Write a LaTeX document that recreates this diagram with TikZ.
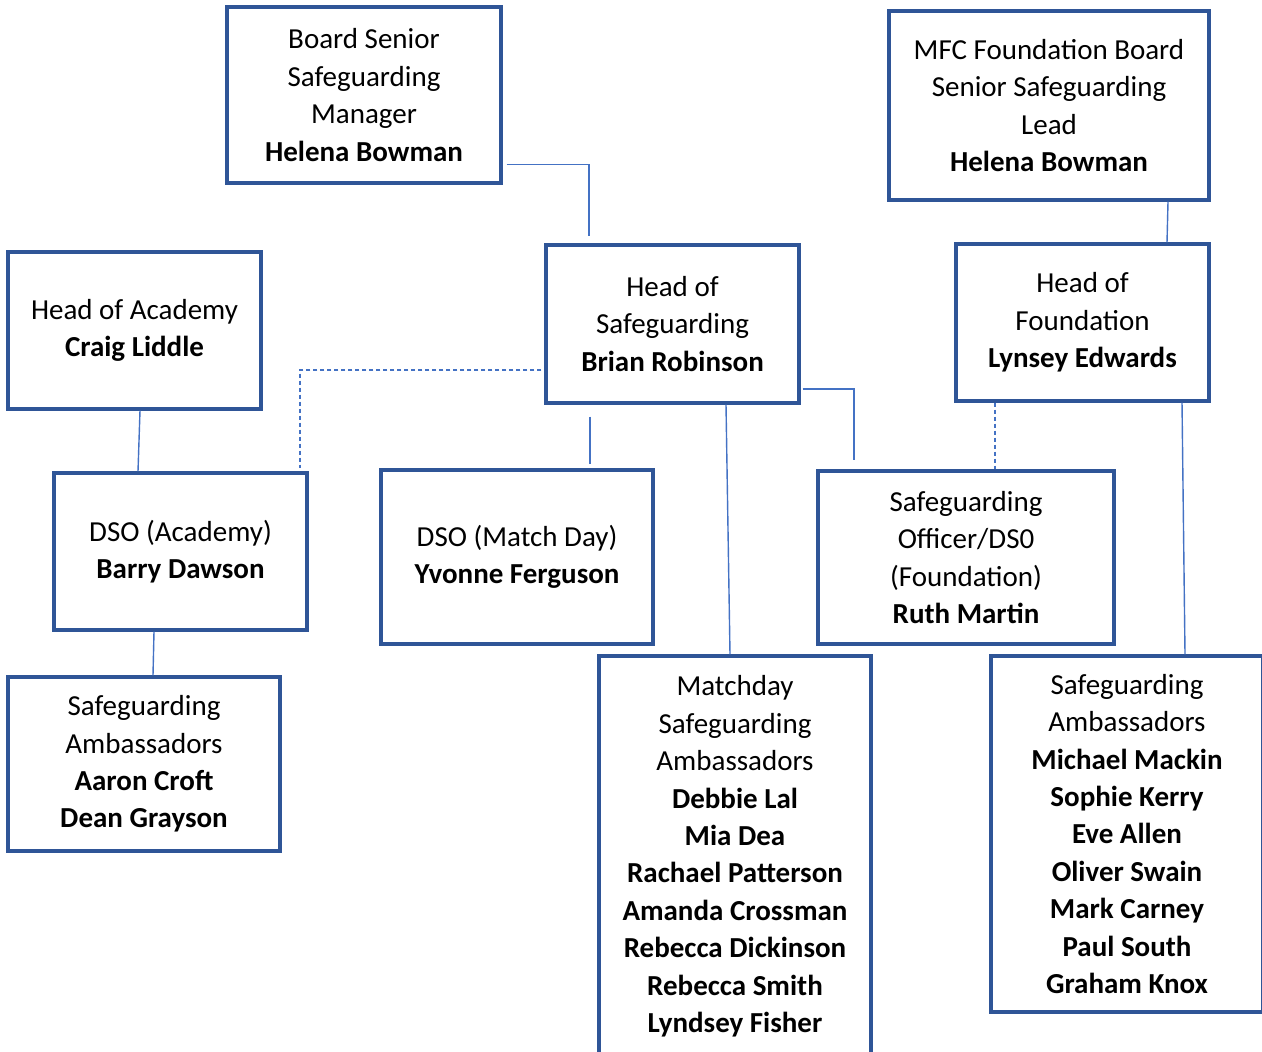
\documentclass[tikz,border=0pt]{standalone}
\usepackage{fontspec}
\setmainfont{Carlito}
\definecolor{boxblue}{HTML}{2F5597}
\definecolor{lineblue}{HTML}{4472C4}

\begin{document}
\begin{tikzpicture}
	[
		x=0.5pt, y=-0.5pt,
		link/.style={draw=lineblue, line width=0.7pt},
		dashlink/.style={link, dash pattern=on 2pt off 1.5pt}
	]
	
	\tikzstyle{Box} = [
		rectangle, 
		draw=boxblue, 
		line width=1.6pt, 
		align=center, 
		text centered, 
		inner sep=0pt,
		font=\fontsize{14.5}{18.7}\selectfont
	]
	
	\useasboundingbox (0,0) rectangle (1262,1052);
	
	\node [Box, minimum width=137pt, minimum height=88pt] (board) at (364,95)
		{Board Senior\\Safeguarding\\Manager\\\textbf{Helena Bowman}};
	\node [Box, minimum width=160pt, minimum height=94.5pt] (mfc) at (1049,105.5)
		{MFC Foundation Board\\Senior Safeguarding\\Lead\\\textbf{Helena Bowman}};
	\node [Box, minimum width=126.5pt, minimum height=78.5pt] (academy) at (134.5,330.5)
		{Head of Academy\\\textbf{Craig Liddle}};
	\node [Box, minimum width=126.5pt, minimum height=79pt] (safeguarding) at (672.5,324)
		{Head of\\Safeguarding\\\textbf{Brian Robinson}};
	\node [Box, minimum width=126.5pt, minimum height=78.5pt] (foundation) at (1082.5,322.5)
		{Head of\\Foundation\\\textbf{Lynsey Edwards}};
	\node [Box, minimum width=126.5pt, minimum height=78.5pt] (dsoacademy) at (180.5,551.5)
		{DSO (Academy)\\\textbf{Barry Dawson}};
	\node [Box, minimum width=136pt, minimum height=87pt] (dsomatch) at (517,557)
		{DSO (Match Day)\\\textbf{Yvonne Ferguson}};
	\node [Box, minimum width=148pt, minimum height=86.5pt] (officer) at (966,557.5)
		{Safeguarding\\Officer/DS0\\(Foundation)\\\textbf{Ruth Martin}};
	\node [Box, minimum width=136pt, minimum height=87pt] (ambleft) at (144,764)
		{Safeguarding\\Ambassadors\\\textbf{Aaron Croft}\\\textbf{Dean Grayson}};
	\node [Box, minimum width=136pt, minimum height=200.5pt] (ambmatch) at (735,856.5)
		{Matchday\\Safeguarding\\Ambassadors\\\textbf{Debbie Lal}\\\textbf{Mia Dea}\\\textbf{Rachael Patterson}\\\textbf{Amanda Crossman}\\\textbf{Rebecca Dickinson}\\\textbf{Rebecca Smith}\\\textbf{Lyndsey Fisher}};
	\node [Box, minimum width=136pt, minimum height=178pt] (ambright) at (1127,834)
		{Safeguarding\\Ambassadors\\\textbf{Michael Mackin}\\\textbf{Sophie Kerry}\\\textbf{Eve Allen}\\\textbf{Oliver Swain}\\\textbf{Mark Carney}\\\textbf{Paul South}\\\textbf{Graham Knox}};
	
	% connectors
	\draw [link] ([xshift=2pt,yshift=10pt]board.south east) -| ([xshift=-41.75pt,yshift=3.5pt]safeguarding.north);
	\draw [link] ([xshift=2.75pt]academy.south) -- ([xshift=-21.25pt]dsoacademy.north);
	\draw [dashlink] ([xshift=-1.5pt,yshift=-23pt]safeguarding.west) -| ([xshift=59.75pt,yshift=1.5pt]dsoacademy.north);
	\draw [link] ([xshift=-41.25pt,yshift=-6pt]safeguarding.south) -- ([xshift=36.5pt,yshift=2pt]dsomatch.north);
	\draw [link] ([xshift=26.75pt]safeguarding.south) -- ([xshift=-2.5pt]ambmatch.north);
	\draw [link] ([xshift=1pt,yshift=-32.5pt]safeguarding.east) -| ([xshift=-56pt,yshift=4.5pt]officer.north);
	\draw [dashlink] ([xshift=-43.75pt]foundation.south) -- ([xshift=14.5pt]officer.north);
	\draw [link] ([xshift=59.5pt]mfc.south) -- ([xshift=42.25pt]foundation.north);
	\draw [link] ([xshift=49.75pt]foundation.south) -- ([xshift=29pt]ambright.north);
	\draw [link] ([xshift=-13.25pt]dsoacademy.south) -- ([xshift=4.5pt]ambleft.north);
\end{tikzpicture}
\end{document}
